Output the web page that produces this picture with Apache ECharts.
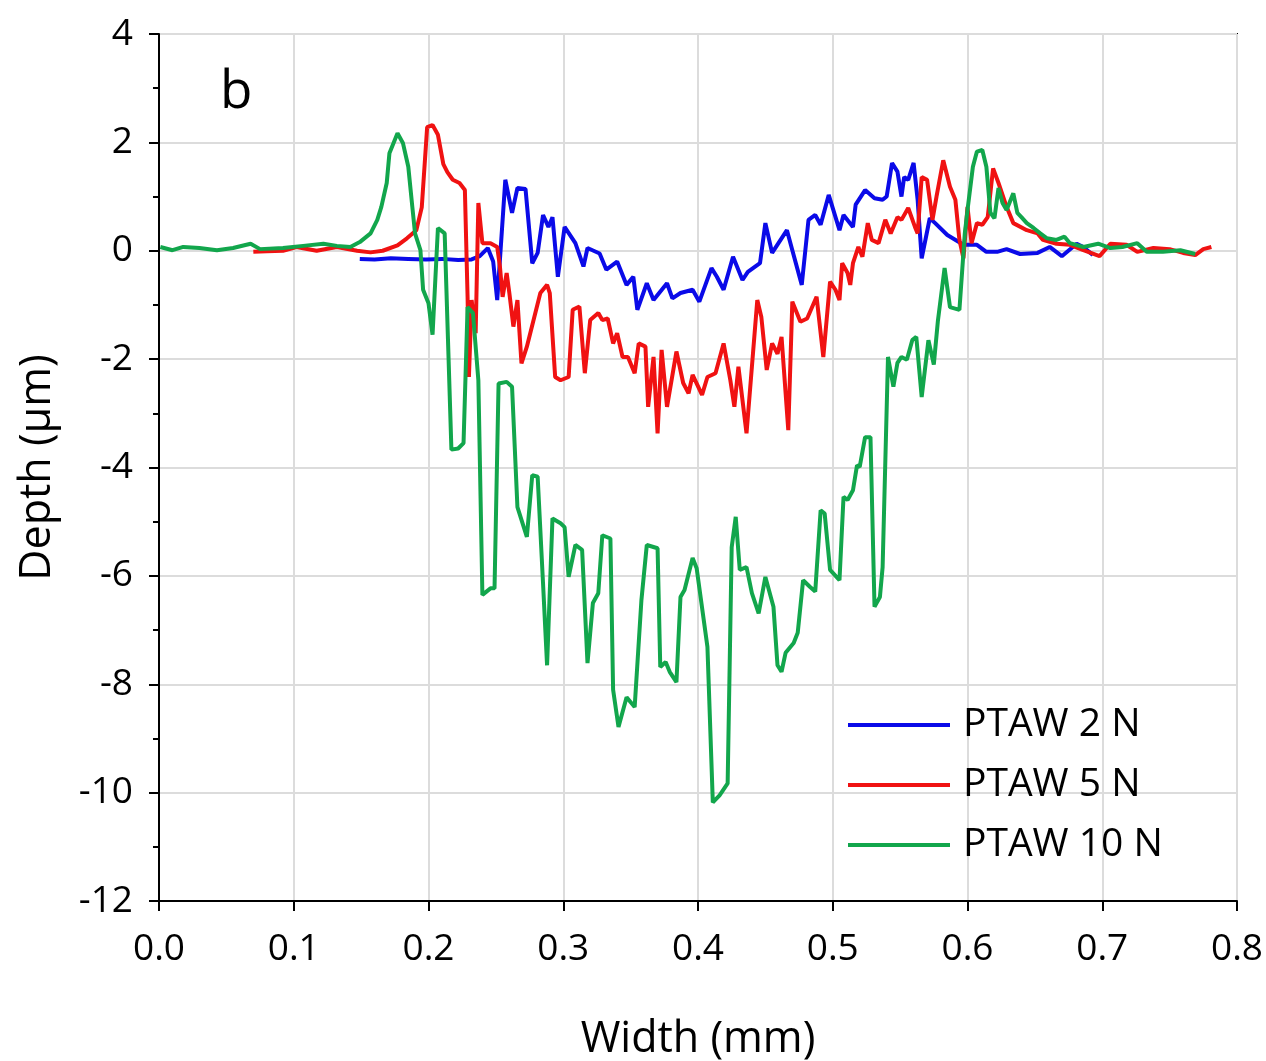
<!DOCTYPE html>
<html>
<head>
<meta charset="utf-8">
<script src="https://cdn.jsdelivr.net/npm/echarts@6/dist/echarts.min.js"></script>
<style>
html,body{margin:0;padding:0;background:#fff;}
#chart{width:1266px;height:1061px;}
</style>
</head>
<body>
<div id="chart"></div>
<script>
// Data: [width (mm), depth (µm)]
const seriesNames = ['PTAW 2 N', 'PTAW 5 N', 'PTAW 10 N'];
const xTicks = [0.0, 0.1, 0.2, 0.3, 0.4, 0.5, 0.6, 0.7, 0.8];
const yTicks = [-12, -10, -8, -6, -4, -2, 0, 2, 4];

const ptaw2N = [
[0.149,-0.15],[0.160,-0.16],[0.172,-0.14],[0.185,-0.15],[0.198,-0.16],[0.210,-0.15],[0.222,-0.17],[0.232,-0.16],[0.238,-0.10],[0.244,0.05],[0.248,-0.20],[0.251,-0.91],[0.257,1.31],[0.262,0.70],[0.266,1.16],[0.272,1.14],[0.277,-0.23],[0.281,-0.04],[0.285,0.66],[0.289,0.44],[0.292,0.62],[0.296,-0.48],[0.301,0.44],[0.309,0.14],[0.315,-0.29],[0.318,0.05],[0.327,-0.05],[0.332,-0.35],[0.340,-0.20],[0.347,-0.63],[0.352,-0.48],[0.355,-1.09],[0.362,-0.60],[0.367,-0.91],[0.377,-0.60],[0.381,-0.88],[0.387,-0.78],[0.396,-0.72],[0.401,-0.94],[0.410,-0.32],[0.414,-0.48],[0.419,-0.72],[0.426,-0.11],[0.433,-0.54],[0.437,-0.39],[0.446,-0.23],[0.450,0.51],[0.455,-0.04],[0.466,0.38],[0.470,0.01],[0.477,-0.63],[0.482,0.57],[0.487,0.66],[0.491,0.48],[0.497,1.03],[0.505,0.38],[0.508,0.66],[0.515,0.44],[0.517,0.85],[0.524,1.12],[0.531,0.97],[0.537,0.94],[0.540,1.00],[0.544,1.62],[0.548,1.46],[0.551,1.00],[0.553,1.36],[0.556,1.31],[0.560,1.62],[0.563,0.94],[0.566,-0.14],[0.572,0.60],[0.576,0.51],[0.585,0.29],[0.597,0.11],[0.607,0.11],[0.614,-0.02],[0.622,-0.02],[0.629,0.03],[0.639,-0.06],[0.652,-0.04],[0.661,0.07],[0.670,-0.10],[0.681,0.13],[0.686,0.07],[0.693,-0.08]
];

const ptaw5N = [
[0.070,-0.02],[0.080,-0.01],[0.092,0.00],[0.102,0.07],[0.117,0.00],[0.132,0.07],[0.147,0.00],[0.157,-0.03],[0.166,0.00],[0.177,0.10],[0.184,0.23],[0.191,0.38],[0.195,0.80],[0.199,2.28],[0.203,2.32],[0.207,2.14],[0.211,1.60],[0.214,1.45],[0.218,1.31],[0.223,1.25],[0.227,1.12],[0.229,-0.85],[0.230,-2.33],[0.232,-0.91],[0.235,-1.52],[0.237,0.88],[0.240,0.14],[0.246,0.14],[0.251,0.07],[0.253,-0.29],[0.255,-0.85],[0.258,-0.41],[0.260,-0.78],[0.263,-1.40],[0.266,-0.91],[0.269,-2.08],[0.273,-1.77],[0.283,-0.78],[0.288,-0.63],[0.290,-0.78],[0.294,-2.33],[0.298,-2.39],[0.304,-2.33],[0.307,-1.09],[0.312,-1.03],[0.316,-2.26],[0.320,-1.28],[0.326,-1.15],[0.329,-1.28],[0.333,-1.25],[0.337,-1.71],[0.340,-1.52],[0.344,-1.96],[0.348,-1.96],[0.353,-2.26],[0.356,-1.71],[0.361,-1.77],[0.363,-2.88],[0.367,-1.96],[0.370,-3.37],[0.373,-1.83],[0.377,-2.88],[0.384,-1.86],[0.389,-2.44],[0.393,-2.63],[0.396,-2.29],[0.403,-2.66],[0.407,-2.33],[0.413,-2.26],[0.419,-1.71],[0.424,-2.39],[0.427,-2.88],[0.430,-2.14],[0.436,-3.37],[0.444,-0.91],[0.447,-1.22],[0.451,-2.20],[0.455,-1.71],[0.459,-1.90],[0.462,-1.59],[0.467,-3.31],[0.470,-0.94],[0.476,-1.31],[0.481,-1.25],[0.488,-0.85],[0.493,-1.96],[0.498,-0.57],[0.502,-0.72],[0.505,-0.91],[0.507,-0.23],[0.511,-0.41],[0.513,-0.63],[0.515,-0.23],[0.519,0.07],[0.522,-0.11],[0.526,0.51],[0.529,0.20],[0.534,0.14],[0.539,0.57],[0.543,0.32],[0.548,0.62],[0.551,0.57],[0.556,0.79],[0.561,0.44],[0.563,0.32],[0.566,1.36],[0.570,1.31],[0.574,0.57],[0.577,1.00],[0.582,1.67],[0.587,1.18],[0.591,0.94],[0.594,0.20],[0.597,-0.14],[0.600,0.81],[0.603,0.14],[0.607,0.51],[0.611,0.48],[0.615,0.62],[0.619,1.52],[0.623,1.25],[0.629,0.81],[0.634,0.51],[0.644,0.38],[0.652,0.32],[0.656,0.20],[0.666,0.13],[0.676,0.11],[0.686,0.01],[0.698,-0.10],[0.706,0.13],[0.718,0.11],[0.726,-0.02],[0.738,0.05],[0.750,0.03],[0.760,-0.04],[0.769,-0.08],[0.775,0.03],[0.781,0.07]
];

const ptaw10N = [
[0.001,0.07],[0.010,0.01],[0.018,0.07],[0.030,0.05],[0.043,0.01],[0.055,0.05],[0.068,0.13],[0.075,0.03],[0.092,0.05],[0.107,0.09],[0.122,0.13],[0.132,0.09],[0.142,0.07],[0.149,0.16],[0.157,0.32],[0.162,0.57],[0.165,0.81],[0.169,1.25],[0.171,1.80],[0.177,2.17],[0.181,1.99],[0.185,1.55],[0.188,0.81],[0.190,0.32],[0.194,0.01],[0.196,-0.72],[0.200,-0.97],[0.203,-1.55],[0.207,0.42],[0.212,0.32],[0.217,-3.67],[0.222,-3.65],[0.226,-3.55],[0.229,-1.04],[0.233,-1.15],[0.237,-2.39],[0.240,-6.35],[0.246,-6.23],[0.249,-6.23],[0.252,-2.45],[0.258,-2.42],[0.262,-2.51],[0.266,-4.73],[0.273,-5.28],[0.277,-4.14],[0.281,-4.17],[0.285,-6.14],[0.288,-7.65],[0.292,-4.94],[0.298,-5.03],[0.301,-5.10],[0.304,-6.02],[0.309,-5.43],[0.314,-5.52],[0.318,-7.61],[0.322,-6.50],[0.326,-6.32],[0.329,-5.25],[0.335,-5.31],[0.337,-8.10],[0.341,-8.79],[0.347,-8.24],[0.353,-8.42],[0.358,-6.45],[0.362,-5.43],[0.370,-5.49],[0.372,-7.68],[0.376,-7.59],[0.379,-7.77],[0.384,-7.96],[0.387,-6.39],[0.390,-6.26],[0.396,-5.67],[0.399,-5.86],[0.407,-7.31],[0.411,-10.18],[0.416,-10.05],[0.422,-9.83],[0.425,-5.47],[0.428,-4.91],[0.431,-5.89],[0.436,-5.84],[0.440,-6.32],[0.445,-6.69],[0.450,-6.02],[0.456,-6.57],[0.459,-7.65],[0.462,-7.77],[0.465,-7.42],[0.471,-7.24],[0.474,-7.05],[0.478,-6.08],[0.483,-6.20],[0.487,-6.29],[0.491,-4.79],[0.494,-4.85],[0.498,-5.89],[0.505,-6.08],[0.508,-4.54],[0.511,-4.60],[0.515,-4.42],[0.518,-3.96],[0.520,-3.99],[0.524,-3.44],[0.528,-3.44],[0.531,-6.57],[0.535,-6.39],[0.537,-5.84],[0.541,-1.96],[0.545,-2.51],[0.548,-2.07],[0.551,-1.96],[0.555,-2.01],[0.559,-1.65],[0.562,-1.59],[0.566,-2.70],[0.571,-1.65],[0.575,-2.10],[0.578,-1.30],[0.583,-0.32],[0.587,-1.04],[0.594,-1.09],[0.598,0.32],[0.600,0.75],[0.604,1.55],[0.607,1.83],[0.611,1.86],[0.614,1.55],[0.617,0.70],[0.620,0.60],[0.623,1.16],[0.626,0.88],[0.629,0.75],[0.634,1.06],[0.637,0.70],[0.640,0.62],[0.644,0.51],[0.649,0.42],[0.654,0.32],[0.659,0.23],[0.666,0.20],[0.672,0.26],[0.676,0.14],[0.686,0.07],[0.697,0.13],[0.706,0.05],[0.715,0.07],[0.726,0.14],[0.733,-0.02],[0.745,-0.02],[0.758,0.01],[0.769,-0.06]
];

const colors = ['#0a0ae8', '#f01212', '#12a64c'];
const FONT = '"Open Sans", "DejaVu Sans", sans-serif';

const chart = echarts.init(document.getElementById('chart'), null, {renderer: 'canvas'});
const dataSets = [ptaw2N, ptaw5N, ptaw10N];

chart.setOption({
  animation: false,
  backgroundColor: '#ffffff',
  grid: {left: 159, right: 29, top: 34, bottom: 160, show: true, borderColor: '#000', borderWidth: 2, backgroundColor: 'transparent', containLabel: false, outerBoundsMode: 'none'},
  graphic: [{
    type: 'text', left: 220, top: 66,
    style: {text: 'b', fontSize: 53, fontFamily: FONT, fill: '#000'}
  }],
  legend: {
    orient: 'vertical', left: 843, top: 697,
    itemWidth: 102, itemHeight: 4, itemGap: 14,
    icon: 'rect',
    textStyle: {fontSize: 39, fontFamily: FONT, color: '#000', lineHeight: 46, padding: [0,0,0,8]},
    data: seriesNames
  },
  xAxis: {
    type: 'value', min: xTicks[0], max: xTicks[xTicks.length-1], interval: 0.1,
    name: 'Width (mm)', nameLocation: 'middle', nameGap: 117,
    nameTextStyle: {fontSize: 43, fontFamily: FONT, color: '#000'},
    axisLine: {show: true, onZero: false, lineStyle: {color: '#000', width: 2}},
    axisTick: {show: true, length: 10, lineStyle: {color: '#000', width: 2}},
    axisLabel: {fontSize: 37, fontFamily: FONT, color: '#000', margin: 30, formatter: v => v.toFixed(1)},
    splitLine: {show: true, lineStyle: {color: '#dcdcdc', width: 2}}
  },
  yAxis: {
    type: 'value', min: yTicks[0], max: yTicks[yTicks.length-1], interval: 2,
    name: 'Depth (μm)', nameLocation: 'middle', nameGap: 100,
    nameTextStyle: {fontSize: 43, fontFamily: FONT, color: '#000'},
    axisLine: {show: true, onZero: false, lineStyle: {color: '#000', width: 2}},
    axisTick: {show: true, length: 10, lineStyle: {color: '#000', width: 2}},
    minorTick: {show: true, splitNumber: 2, length: 6, lineStyle: {color: '#000', width: 2}},
    axisLabel: {fontSize: 37, fontFamily: FONT, color: '#000', margin: 26},
    splitLine: {show: true, lineStyle: {color: '#dcdcdc', width: 2}}
  },
  series: seriesNames.map((name, i) => ({
    name: name, type: 'line', data: dataSets[i],
    showSymbol: false, symbol: 'none',
    lineStyle: {color: colors[i], width: 4},
    itemStyle: {color: colors[i]},
    clip: true
  }))
});
</script>
</body>
</html>
